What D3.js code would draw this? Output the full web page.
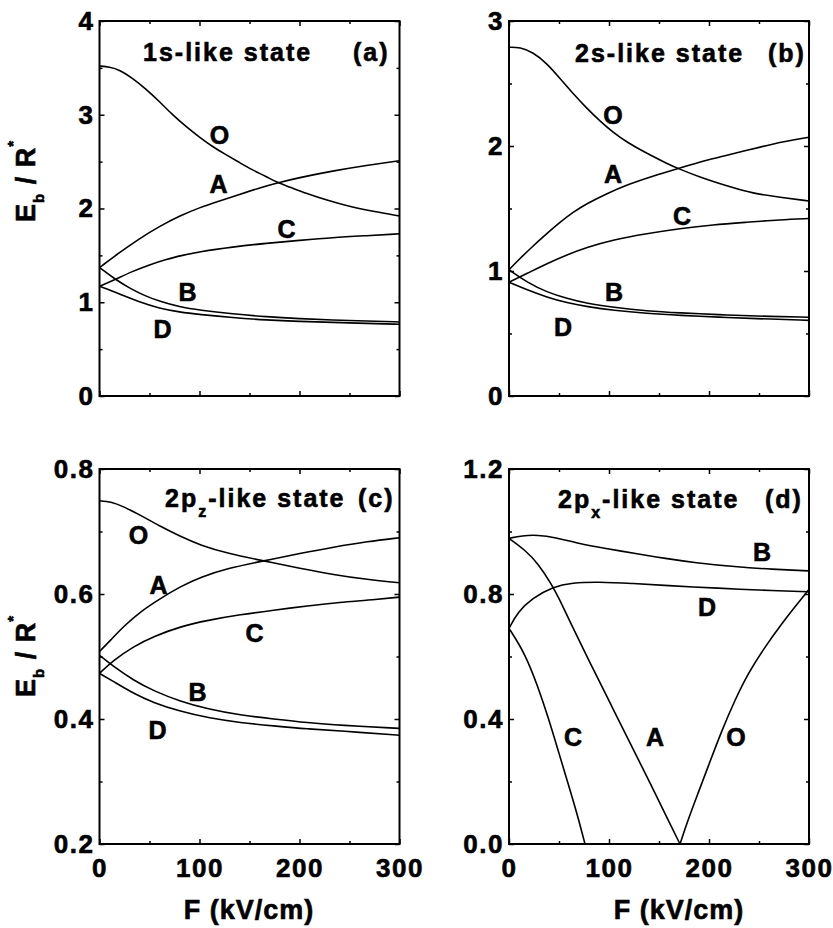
<!DOCTYPE html>
<html>
<head>
<meta charset="utf-8">
<script src="https://cdn.jsdelivr.net/npm/d3@7"></script>
<style>
  body { margin: 0; background: #fff; }
  svg text { font-family: "Liberation Sans", Arial, Helvetica, sans-serif; font-weight: bold; fill: #000;
             stroke: #000; stroke-width: 0.6px; }
</style>
</head>
<body>
<svg id="chart" width="833" height="928"></svg>
<script>
// ---- data: [F (kV/cm), Eb/R*] ----

// (a) 1s-like state
const a_O = [[0,3.52],[10,3.51],[20,3.48],[33,3.39],[47,3.27],[60,3.14],[73,3.00],[87,2.87],[100,2.76],[113,2.66],[127,2.57],[140,2.49],[153,2.41],[167,2.34],[177,2.28],[190,2.23],[207,2.16],[227,2.09],[250,2.02],[273,1.97],[300,1.92]];
const a_A = [[0,1.37],[20,1.53],[40,1.68],[60,1.81],[80,1.92],[100,2.01],[120,2.08],[140,2.15],[160,2.22],[177,2.27],[200,2.33],[233,2.40],[267,2.46],[300,2.51]];
const a_C = [[0,1.17],[15,1.24],[33,1.33],[50,1.40],[67,1.46],[83,1.50],[100,1.54],[133,1.59],[167,1.63],[200,1.66],[233,1.69],[267,1.71],[300,1.73]];
const a_B = [[0,1.37],[15,1.25],[30,1.15],[45,1.07],[60,1.01],[80,0.95],[100,0.915],[133,0.875],[167,0.845],[200,0.825],[233,0.81],[267,0.80],[300,0.79]];
const a_D = [[0,1.17],[20,1.09],[40,1.00],[60,0.935],[80,0.895],[100,0.87],[133,0.835],[167,0.81],[200,0.795],[233,0.785],[267,0.775],[300,0.765]];

// (b) 2s-like state
const b_O = [[0,2.79],[11,2.79],[24,2.75],[38,2.66],[51,2.54],[64,2.42],[78,2.30],[91,2.20],[104,2.11],[118,2.03],[138,1.94],[158,1.86],[169,1.82],[191,1.75],[218,1.68],[244,1.62],[271,1.59],[300,1.56]];
const b_A = [[0,1.01],[11,1.10],[24,1.20],[38,1.30],[51,1.39],[64,1.47],[78,1.54],[98,1.62],[118,1.69],[144,1.76],[169,1.82],[198,1.89],[231,1.95],[264,2.02],[300,2.07]];
const b_C = [[0,0.91],[18,0.98],[38,1.06],[58,1.13],[78,1.19],[104,1.25],[138,1.30],[171,1.34],[204,1.37],[238,1.39],[271,1.41],[300,1.42]];
const b_B = [[0,1.01],[18,0.91],[38,0.83],[58,0.78],[78,0.74],[104,0.71],[138,0.68],[171,0.665],[211,0.65],[244,0.64],[300,0.63]];
const b_D = [[0,0.91],[18,0.85],[38,0.79],[58,0.745],[78,0.715],[104,0.685],[138,0.66],[171,0.645],[211,0.63],[244,0.62],[300,0.605]];

// (c) 2pz-like state
const c_O = [[0,0.749],[11,0.748],[24,0.740],[41,0.726],[61,0.708],[81,0.692],[101,0.678],[128,0.665],[164,0.653],[201,0.641],[234,0.631],[268,0.623],[300,0.618]];
const c_A = [[0,0.508],[11,0.526],[24,0.548],[41,0.572],[61,0.593],[81,0.612],[101,0.627],[128,0.641],[164,0.653],[201,0.665],[234,0.675],[268,0.684],[300,0.690]];
const c_C = [[0,0.473],[14,0.494],[34,0.516],[54,0.532],[81,0.548],[108,0.558],[141,0.567],[174,0.574],[208,0.581],[241,0.587],[268,0.590],[300,0.595]];
const c_B = [[0,0.502],[14,0.484],[34,0.462],[54,0.445],[81,0.428],[108,0.416],[141,0.406],[174,0.400],[208,0.394],[241,0.390],[300,0.385]];
const c_D = [[0,0.473],[14,0.460],[34,0.441],[54,0.426],[81,0.412],[108,0.402],[141,0.394],[174,0.389],[208,0.384],[241,0.381],[300,0.374]];

// (d) 2px-like state
const d_B = [[0,0.978],[13,0.987],[29,0.989],[46,0.981],[69,0.962],[96,0.946],[129,0.928],[156,0.914],[186,0.900],[226,0.887],[263,0.879],[300,0.874]];
const d_D = [[0,0.690],[9,0.743],[23,0.786],[44,0.823],[63,0.836],[89,0.839],[123,0.834],[156,0.827],[213,0.818],[246,0.813],[300,0.807]];
const d_A = [[0,0.978],[16,0.941],[29,0.898],[43,0.829],[50,0.786],[63,0.698],[83,0.567],[103,0.439],[123,0.311],[143,0.183],[159,0.077],[171,0.0]];
const d_C = [[0,0.690],[16,0.610],[29,0.503],[39,0.407],[49,0.301],[59,0.194],[68,0.098],[76,0.0]];
const d_O = [[171,0.0],[179,0.077],[189,0.162],[199,0.247],[213,0.365],[226,0.461],[239,0.546],[256,0.631],[273,0.706],[286,0.759],[298,0.807],[300,0.815]];

// curve labels [name, F, E]
const a_labels = [["O",120,2.78],["A",119,2.26],["C",187,1.78],["B",88,1.11],["D",63,0.71]];
const b_labels = [["O",104,2.25],["A",104,1.78],["C",173,1.44],["B",105,0.83],["D",54,0.55]];
const c_labels = [["O",39,0.694],["A",59,0.615],["C",155,0.538],["B",98,0.444],["D",58,0.382]];
const d_labels = [["B",253,0.934],["D",198,0.759],["O",227,0.343],["A",146,0.342],["C",64,0.342]];

// ticks
const xMajor = [0, 100, 200, 300];
const xMinor = [50, 150, 250];
const a_yMajor = [0, 1, 2, 3, 4], a_yMinor = [0.5, 1.5, 2.5, 3.5];
const b_yMajor = [0, 1, 2, 3],    b_yMinor = [0.5, 1.5, 2.5];
const c_yMajor = [0.2, 0.4, 0.6, 0.8], c_yMinor = [0.3, 0.5, 0.7];
const d_yMajor = [0.0, 0.4, 0.8, 1.2], d_yMinor = [0.2, 0.6, 1.0];

// ---- layout ----
const W = 300, H = 375;
const panels = [
  { x0: 99.5, y0: 21,  yDom: [0, 4],     yMajor: a_yMajor, yMinor: a_yMinor, fmt: d3.format("d"),
    curves: [a_O, a_A, a_C, a_B, a_D], labels: a_labels, xLabels: false,
    title: ["1s-like state", null, ""], tag: "(a)", titlePos: [143, 61], tagPos: [353, 61] },
  { x0: 509,  y0: 21,  yDom: [0, 3],     yMajor: b_yMajor, yMinor: b_yMinor, fmt: d3.format("d"),
    curves: [b_O, b_A, b_C, b_B, b_D], labels: b_labels, xLabels: false,
    title: ["2s-like state", null, ""], tag: "(b)", titlePos: [575, 62], tagPos: [768, 62] },
  { x0: 99.5, y0: 469, yDom: [0.2, 0.8], yMajor: c_yMajor, yMinor: c_yMinor, fmt: d3.format(".1f"),
    curves: [c_O, c_A, c_C, c_B, c_D], labels: c_labels, xLabels: true,
    title: ["2p", "z", "-like state"], tag: "(c)", titlePos: [165, 507], tagPos: [358, 507] },
  { x0: 509,  y0: 469, yDom: [0, 1.2],   yMajor: d_yMajor, yMinor: d_yMinor, fmt: d3.format(".1f"),
    curves: [d_B, d_D, d_A, d_C, d_O], labels: d_labels, xLabels: true,
    title: ["2p", "x", "-like state"], tag: "(d)", titlePos: [558, 508], tagPos: [765, 508] }
];

const svg = d3.select("#chart");
svg.append("rect").attr("width", 833).attr("height", 928).attr("fill", "#fff");

function styleAxis(g) {
  g.select(".domain").remove();
  g.attr("font-family", null).attr("font-size", 26);
  g.selectAll(".tick line").attr("stroke", "#000").attr("stroke-width", 1.5);
  g.selectAll(".tick text").style("letter-spacing", "1.5px");
}

panels.forEach(p => {
  const x = d3.scaleLinear().domain([0, 300]).range([p.x0, p.x0 + W]);
  const y = d3.scaleLinear().domain(p.yDom).range([p.y0 + H, p.y0]);
  const g = svg.append("g");

  // inward ticks on all four sides
  g.append("g").attr("transform", `translate(0,${p.y0 + H})`)
    .call(d3.axisBottom(x).tickValues(xMajor).tickSize(-5).tickPadding(15)
      .tickFormat(p.xLabels ? d3.format("d") : ""))
    .call(styleAxis);
  g.append("g").attr("transform", `translate(0,${p.y0 + H})`)
    .call(d3.axisBottom(x).tickValues(xMinor).tickSize(-3).tickFormat(""))
    .call(styleAxis);
  g.append("g").attr("transform", `translate(0,${p.y0})`)
    .call(d3.axisTop(x).tickValues(xMajor).tickSize(-5).tickFormat(""))
    .call(styleAxis);
  g.append("g").attr("transform", `translate(0,${p.y0})`)
    .call(d3.axisTop(x).tickValues(xMinor).tickSize(-3).tickFormat(""))
    .call(styleAxis);
  g.append("g").attr("transform", `translate(${p.x0},0)`)
    .call(d3.axisLeft(y).tickValues(p.yMajor).tickSize(-5).tickPadding(5).tickFormat(p.fmt))
    .call(styleAxis);
  g.append("g").attr("transform", `translate(${p.x0},0)`)
    .call(d3.axisLeft(y).tickValues(p.yMinor).tickSize(-3).tickFormat(""))
    .call(styleAxis);
  g.append("g").attr("transform", `translate(${p.x0 + W},0)`)
    .call(d3.axisRight(y).tickValues(p.yMajor).tickSize(-5).tickFormat(""))
    .call(styleAxis);
  g.append("g").attr("transform", `translate(${p.x0 + W},0)`)
    .call(d3.axisRight(y).tickValues(p.yMinor).tickSize(-3).tickFormat(""))
    .call(styleAxis);

  // frame
  g.append("rect")
    .attr("x", p.x0).attr("y", p.y0).attr("width", W).attr("height", H)
    .attr("fill", "none").attr("stroke", "#000").attr("stroke-width", 2);

  // curves
  const line = d3.line().x(d => x(d[0])).y(d => y(d[1])).curve(d3.curveBasis);
  p.curves.forEach(c => {
    g.append("path").datum(c)
      .attr("d", line)
      .attr("fill", "none")
      .attr("stroke", "#000")
      .attr("stroke-width", 1.6);
  });

  // curve labels
  g.selectAll(".clab").data(p.labels).join("text")
    .attr("x", d => x(d[1]))
    .attr("y", d => y(d[2]))
    .attr("dy", "0.36em")
    .attr("text-anchor", "middle")
    .attr("font-size", 25)
    .text(d => d[0]);

  // title
  const t = g.append("text")
    .attr("x", p.titlePos[0]).attr("y", p.titlePos[1])
    .attr("font-size", 25).style("letter-spacing", "2px");
  t.append("tspan").text(p.title[0]);
  if (p.title[1]) {
    t.append("tspan").attr("font-size", 16).attr("dy", 10).text(p.title[1]);
    t.append("tspan").attr("dy", -10).text(p.title[2]);
  }
  g.append("text")
    .attr("x", p.tagPos[0]).attr("y", p.tagPos[1])
    .attr("font-size", 25).style("letter-spacing", "2px")
    .text(p.tag);
});

// y axis titles (left column only)
[[35, 222], [35, 697]].forEach(([tx, ty]) => {
  const yl = svg.append("text")
    .attr("transform", `translate(${tx},${ty}) rotate(-90)`)
    .attr("font-size", 27)
    .style("letter-spacing", "1px");
  yl.append("tspan").text("E");
  yl.append("tspan").attr("font-size", 15).attr("dy", 9).text("b");
  yl.append("tspan").attr("dy", -9).text(" / R");
  yl.append("tspan").attr("font-size", 15).attr("dy", -17).text("*");
});

// x axis titles (bottom row)
[[249, 919], [679, 919]].forEach(([tx, ty]) => {
  svg.append("text")
    .attr("x", tx).attr("y", ty)
    .attr("text-anchor", "middle")
    .attr("font-size", 27)
    .style("letter-spacing", "1px")
    .text("F (kV/cm)");
});
</script>
</body>
</html>
